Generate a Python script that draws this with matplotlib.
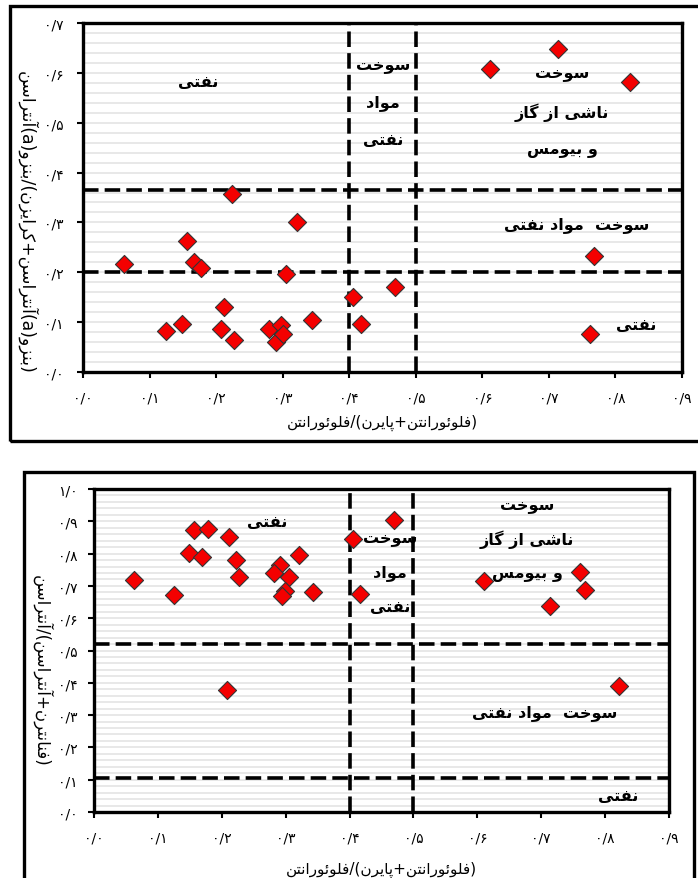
import matplotlib
matplotlib.use("Agg")
import matplotlib.pyplot as plt
from matplotlib.patches import Rectangle
import numpy as np

# ---------------- data ----------------
top_x = [0.062, 0.125, 0.148, 0.156, 0.167, 0.178, 0.212, 0.207, 0.227, 0.224,
         0.321, 0.305, 0.280, 0.297, 0.290, 0.301, 0.344, 0.405, 0.417, 0.469,
         0.611, 0.714, 0.822, 0.768, 0.762]
top_y = [0.217, 0.083, 0.096, 0.263, 0.220, 0.208, 0.130, 0.086, 0.065, 0.358,
         0.301, 0.197, 0.086, 0.094, 0.061, 0.076, 0.105, 0.151, 0.096, 0.170,
         0.608, 0.648, 0.581, 0.233, 0.076]

bot_x = [0.063, 0.125, 0.157, 0.179, 0.149, 0.169, 0.211, 0.223, 0.227, 0.208,
         0.291, 0.281, 0.305, 0.321, 0.299, 0.294, 0.343, 0.405, 0.417, 0.469,
         0.610, 0.761, 0.768, 0.714, 0.822]
bot_y = [0.719, 0.671, 0.874, 0.877, 0.803, 0.791, 0.851, 0.781, 0.729, 0.379,
         0.766, 0.740, 0.729, 0.797, 0.683, 0.668, 0.681, 0.846, 0.674, 0.903,
         0.715, 0.743, 0.686, 0.637, 0.389]

top_xlines = [0.4, 0.5]
top_ylines = [0.365, 0.2]
bot_xlines = [0.4, 0.5]
bot_ylines = [0.52, 0.105]

x_ticks = [0.0, 0.1, 0.2, 0.3, 0.4, 0.5, 0.6, 0.7, 0.8, 0.9]
top_yticks = [0.0, 0.1, 0.2, 0.3, 0.4, 0.5, 0.6, 0.7]
bot_yticks = [0.0, 0.1, 0.2, 0.3, 0.4, 0.5, 0.6, 0.7, 0.8, 0.9, 1.0]

x_label = "(فلوئورانتن+پایرن)/فلوئورانتن"
top_ylabel = "(بنزو(a)آنتراسن+کرایزن)/بنزو(a)آنتراسن"
bot_ylabel = "(فنانترن+آنتراسن)/آنتراسن"

# ---------------- simple Persian shaping ----------------
FORMS = {
    'ا': ('\uFE8D', '\uFE8E', None, None),
    'آ': ('\uFE81', '\uFE82', None, None),
    'ب': ('\uFE8F', '\uFE90', '\uFE91', '\uFE92'),
    'پ': ('\uFB56', '\uFB57', '\uFB58', '\uFB59'),
    'ت': ('\uFE95', '\uFE96', '\uFE97', '\uFE98'),
    'خ': ('\uFEA5', '\uFEA6', '\uFEA7', '\uFEA8'),
    'د': ('\uFEA9', '\uFEAA', None, None),
    'ر': ('\uFEAD', '\uFEAE', None, None),
    'ز': ('\uFEAF', '\uFEB0', None, None),
    'س': ('\uFEB1', '\uFEB2', '\uFEB3', '\uFEB4'),
    'ش': ('\uFEB5', '\uFEB6', '\uFEB7', '\uFEB8'),
    'ف': ('\uFED1', '\uFED2', '\uFED3', '\uFED4'),
    'ک': ('\uFB8E', '\uFB8F', '\uFB90', '\uFB91'),
    'گ': ('\uFB92', '\uFB93', '\uFB94', '\uFB95'),
    'ل': ('\uFEDD', '\uFEDE', '\uFEDF', '\uFEE0'),
    'م': ('\uFEE1', '\uFEE2', '\uFEE3', '\uFEE4'),
    'ن': ('\uFEE5', '\uFEE6', '\uFEE7', '\uFEE8'),
    'و': ('\uFEED', '\uFEEE', None, None),
    'ی': ('\uFBFC', '\uFBFD', '\uFBFE', '\uFBFF'),
    'ئ': ('\uFE89', '\uFE8A', '\uFE8B', '\uFE8C'),
}
MIRROR = {'(': ')', ')': '('}


def shape(s):
    out = []
    n = len(s)
    for i, c in enumerate(s):
        if c not in FORMS:
            out.append(c)
            continue
        f = FORMS[c]
        prev = s[i - 1] if i > 0 else ''
        nxt = s[i + 1] if i + 1 < n else ''
        pj = prev in FORMS and FORMS[prev][2] is not None
        nj = nxt in FORMS and f[2] is not None
        if pj and nj:
            out.append(f[3])
        elif pj:
            out.append(f[1])
        elif nj:
            out.append(f[2])
        else:
            out.append(f[0])
    return ''.join(out)


def fa(s):
    shaped = shape(s)
    rev = [MIRROR.get(c, c) for c in reversed(shaped)]
    return ''.join(rev)


PD = '۰۱۲۳۴۵۶۷۸۹'


def fnum(v):
    s = f"{v:.1f}"
    a, b = s.split('.')
    return ''.join(PD[int(d)] for d in a) + '/' + ''.join(PD[int(d)] for d in b)


# ---------------- figure ----------------
plt.rcParams['font.family'] = ['DejaVu Sans']
W, H = 698, 879
fig = plt.figure(figsize=(W / 100, H / 100), dpi=100)
fig.patch.set_facecolor('white')


def px_axes(l, t, r, b):
    return fig.add_axes([l / W, 1 - b / H, (r - l) / W, (b - t) / H])


# outer frames
fig.patches.append(Rectangle((10 / W, 1 - 442 / H), 700 / W, 435 / H, transform=fig.transFigure,
                             fill=False, lw=2.4, ec='black', zorder=0))
fig.patches.append(Rectangle((24 / W, -0.01), 670 / W, 1 - 473 / H + 0.01, transform=fig.transFigure,
                             fill=False, lw=2.4, ec='black', zorder=0))

ax1 = px_axes(83, 24, 682, 373)
ax2 = px_axes(94, 490, 669, 813)

DASH = (0, (4.3, 1.7))


def style(ax, xs, ys, yticks, xl, yl, xlines, ylines, ymax, ypad, ylab_x, ylab_y, xlab_y, ylab_fs):
    ax.set_xlim(0, 0.9)
    ax.set_ylim(0, ymax)
    # light stripes
    for g in np.arange(0.02, ymax, 0.02):
        ax.axhline(g, color='#e6e6e6', lw=1.3, zorder=0)
    for v in xlines:
        ax.axvline(v, color='black', lw=2.6, linestyle=DASH, zorder=2)
    for h in ylines:
        ax.axhline(h, color='black', lw=2.6, linestyle=DASH, zorder=2)
    ax.scatter(xs, ys, marker='D', s=85, facecolor='#f40000', edgecolor='#333333',
               linewidths=0.8, zorder=3)
    ax.set_xticks(x_ticks)
    ax.set_xticklabels([fnum(v) for v in x_ticks], fontsize=10)
    ax.set_yticks(yticks)
    ax.set_yticklabels([fnum(v) for v in yticks], fontsize=10)
    ax.tick_params(axis='x', length=4, width=1.5, pad=9, direction='out')
    ax.tick_params(axis='y', length=4, width=1.5, pad=ypad, direction='out')
    for sp in ax.spines.values():
        sp.set_linewidth(2.4)
        sp.set_color('black')
    ax.set_xlabel(fa(xl), fontsize=11)
    ax.xaxis.set_label_coords(0.5, xlab_y)
    ax.set_ylabel(fa(yl), fontsize=ylab_fs, rotation=270, va='center', ha='center')
    ax.yaxis.set_label_coords(ylab_x, ylab_y)


style(ax1, top_x, top_y, top_yticks, x_label, top_ylabel, top_xlines, top_ylines,
      0.7, 10, -0.093, 0.43, -0.12, 12.5)
style(ax2, bot_x, bot_y, bot_yticks, x_label, bot_ylabel, bot_xlines, bot_ylines,
      1.0, 8, -0.090, 0.44, -0.15, 12)

TK = dict(fontsize=11.5, fontweight='bold', ha='center', va='center', zorder=4)

# top chart region labels
ax1.text(0.173, 0.582, fa("نفتی"), **TK)
for yy, t in zip([0.614, 0.541, 0.467], ["سوخت", "مواد", "نفتی"]):
    ax1.text(0.451, yy, fa(t), **TK)
for yy, t in zip([0.598, 0.523, 0.447], ["سوخت", "ناشی از گاز", "و بیومس"]):
    ax1.text(0.720, yy, fa(t), **TK)
ax1.text(0.742, 0.297, fa("سوخت  مواد نفتی"), **TK)
ax1.text(0.831, 0.096, fa("نفتی"), **TK)

# bottom chart region labels
ax2.text(0.271, 0.899, fa("نفتی"), **TK)
for yy, t in zip([0.846, 0.744, 0.636], ["سوخت", "مواد", "نفتی"]):
    ax2.text(0.463, yy, fa(t), **TK)
for yy, t in zip([0.948, 0.846, 0.738], ["سوخت", "ناشی از گاز", "و بیومس"]):
    ax2.text(0.678, yy, fa(t), **TK)
ax2.text(0.706, 0.311, fa("سوخت  مواد نفتی"), **TK)
ax2.text(0.820, 0.050, fa("نفتی"), **TK)

fig.savefig('out.png', dpi=100)
